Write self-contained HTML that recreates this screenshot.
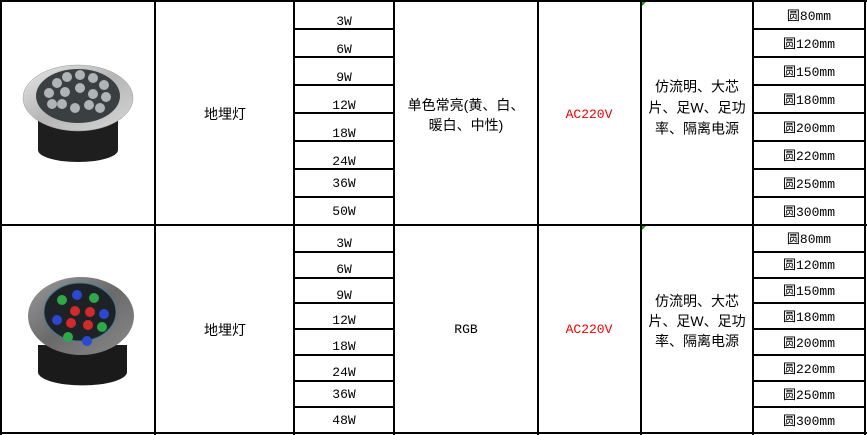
<!DOCTYPE html>
<html><head><meta charset="utf-8"><style>
body{margin:0;width:867px;height:435px;background:#fff;position:relative;overflow:hidden;font-family:"Liberation Mono","WenQuanYi Zen Hei","Noto Sans CJK SC",monospace;color:#000}
.h{position:absolute;height:2px;background:#000}
.v{position:absolute;width:2px;background:#000}
.t{position:absolute;font-size:13px;line-height:14px;text-align:center;white-space:nowrap;transform:translate(-50%,-50%)}
.c{font-size:14px;font-family:"Liberation Sans","WenQuanYi Zen Hei","Noto Sans CJK SC",sans-serif}
</style></head><body>
<div class="v" style="left:0;top:0;height:435px"></div>
<div class="v" style="left:154px;top:0;height:435px"></div>
<div class="v" style="left:293px;top:0;height:435px"></div>
<div class="v" style="left:393px;top:0;height:435px"></div>
<div class="v" style="left:537px;top:0;height:435px"></div>
<div class="v" style="left:640px;top:0;height:435px"></div>
<div class="v" style="left:752px;top:0;height:435px"></div>
<div class="v" style="left:864px;top:0;height:435px"></div>
<div class="h" style="left:0;top:0;width:867px"></div>
<div class="h" style="left:0;top:224px;width:867px"></div>
<div class="h" style="left:0;top:432px;width:867px"></div>
<div class="h" style="left:293px;top:28px;width:101px"></div>
<div class="h" style="left:293px;top:56px;width:101px"></div>
<div class="h" style="left:293px;top:84px;width:101px"></div>
<div class="h" style="left:293px;top:112px;width:101px"></div>
<div class="h" style="left:293px;top:140px;width:101px"></div>
<div class="h" style="left:293px;top:168px;width:101px"></div>
<div class="h" style="left:293px;top:196px;width:101px"></div>
<div class="h" style="left:293px;top:251px;width:101px"></div>
<div class="h" style="left:293px;top:277px;width:101px"></div>
<div class="h" style="left:293px;top:302px;width:101px"></div>
<div class="h" style="left:293px;top:328px;width:101px"></div>
<div class="h" style="left:293px;top:354px;width:101px"></div>
<div class="h" style="left:293px;top:380px;width:101px"></div>
<div class="h" style="left:293px;top:406px;width:101px"></div>
<div class="h" style="left:752px;top:28px;width:114px"></div>
<div class="h" style="left:752px;top:56px;width:114px"></div>
<div class="h" style="left:752px;top:84px;width:114px"></div>
<div class="h" style="left:752px;top:112px;width:114px"></div>
<div class="h" style="left:752px;top:140px;width:114px"></div>
<div class="h" style="left:752px;top:168px;width:114px"></div>
<div class="h" style="left:752px;top:196px;width:114px"></div>
<div class="h" style="left:752px;top:251px;width:114px"></div>
<div class="h" style="left:752px;top:277px;width:114px"></div>
<div class="h" style="left:752px;top:302px;width:114px"></div>
<div class="h" style="left:752px;top:328px;width:114px"></div>
<div class="h" style="left:752px;top:354px;width:114px"></div>
<div class="h" style="left:752px;top:380px;width:114px"></div>
<div class="h" style="left:752px;top:406px;width:114px"></div>
<div style="position:absolute;left:642px;top:2px;width:0;height:0;border-top:4px solid #0a0;border-right:4px solid transparent"></div>
<div style="position:absolute;left:642px;top:226px;width:0;height:0;border-top:4px solid #0a0;border-right:4px solid transparent"></div>

<svg style="position:absolute;left:0;top:0" width="155" height="435">
<defs>
<linearGradient id="ring" x1="0" y1="0" x2="1" y2="1"><stop offset="0" stop-color="#e8e8e8"/><stop offset="0.5" stop-color="#b5b5b5"/><stop offset="1" stop-color="#d8d8d8"/></linearGradient>
<linearGradient id="ring2" x1="0" y1="0" x2="1" y2="1"><stop offset="0" stop-color="#9a9a9a"/><stop offset="0.5" stop-color="#6a6a6a"/><stop offset="1" stop-color="#8a8a8a"/></linearGradient>
</defs>
<path d="M38 118 L38 150 A40 12 0 0 0 118 150 L118 118 Z" fill="#1e1e1e"/>
<ellipse cx="78" cy="98" rx="55" ry="33" fill="url(#ring)" stroke="#999" stroke-width="0.5"/>
<ellipse cx="78" cy="96" rx="42" ry="27" fill="#3a3f42"/>
<g fill="#b0b4b6">
<circle cx="57" cy="83" r="5"/><circle cx="67" cy="77" r="5"/><circle cx="80" cy="75" r="5"/><circle cx="93" cy="78" r="5"/><circle cx="104" cy="85" r="5"/>
<circle cx="49" cy="93" r="5"/><circle cx="65" cy="92" r="5"/><circle cx="80" cy="88" r="5"/><circle cx="93" cy="94" r="5"/><circle cx="106" cy="97" r="5"/>
<circle cx="52" cy="104" r="5"/><circle cx="62" cy="104" r="5"/><circle cx="75" cy="108" r="5"/><circle cx="89" cy="105" r="5"/><circle cx="100" cy="108" r="5"/>
</g>
<path d="M38 345 L38 372 A40 12 0 0 0 127 372 L127 345 Z" fill="#1a1a1a"/>
<ellipse cx="81" cy="316" rx="53" ry="39" fill="url(#ring2)"/>
<ellipse cx="80" cy="312" rx="36" ry="29" fill="#1e2226" stroke="#3a7a90" stroke-width="1"/>
<circle cx="62" cy="300" r="5" fill="#2fa84a"/><circle cx="77" cy="295" r="5" fill="#2a48d0"/><circle cx="94" cy="298" r="5" fill="#2fa84a"/>
<circle cx="75" cy="311" r="5" fill="#d02a2a"/><circle cx="90" cy="312" r="5" fill="#d02a2a"/><circle cx="104" cy="314" r="5" fill="#2a48d0"/>
<circle cx="57" cy="320" r="5" fill="#2a48d0"/><circle cx="71" cy="323" r="5" fill="#d02a2a"/><circle cx="88" cy="325" r="5" fill="#d02a2a"/><circle cx="102" cy="327" r="5" fill="#2fa84a"/>
<circle cx="68" cy="337" r="5" fill="#2fa84a"/><circle cx="87" cy="341" r="5" fill="#2a48d0"/>
</svg>

<div class="t c" style="left:225px;top:114px">地埋灯</div>
<div class="t" style="left:344px;top:22px">3W</div>
<div class="t" style="left:344px;top:50px">6W</div>
<div class="t" style="left:344px;top:78px">9W</div>
<div class="t" style="left:344px;top:106px">12W</div>
<div class="t" style="left:344px;top:134px">18W</div>
<div class="t" style="left:344px;top:162px">24W</div>
<div class="t" style="left:344px;top:184px">36W</div>
<div class="t" style="left:344px;top:212px">50W</div>
<div class="t c" style="left:466px;top:115px;line-height:20px">单色常亮(黄、白、<br>暖白、中性)</div>
<div class="t" style="left:589px;top:115px;color:#e00">AC220V</div>
<div class="t c" style="left:697px;top:108px;line-height:21px">仿流明、大芯<br>片、足W、足功<br>率、隔离电源</div>
<div class="t" style="left:809px;top:17px">圆80mm</div>
<div class="t" style="left:809px;top:45px">圆120mm</div>
<div class="t" style="left:809px;top:73px">圆150mm</div>
<div class="t" style="left:809px;top:101px">圆180mm</div>
<div class="t" style="left:809px;top:129px">圆200mm</div>
<div class="t" style="left:809px;top:157px">圆220mm</div>
<div class="t" style="left:809px;top:185px">圆250mm</div>
<div class="t" style="left:809px;top:213px">圆300mm</div>

<div class="t c" style="left:225px;top:330px">地埋灯</div>
<div class="t" style="left:344px;top:244px">3W</div>
<div class="t" style="left:344px;top:270px">6W</div>
<div class="t" style="left:344px;top:296px">9W</div>
<div class="t" style="left:344px;top:321px">12W</div>
<div class="t" style="left:344px;top:347px">18W</div>
<div class="t" style="left:344px;top:373px">24W</div>
<div class="t" style="left:344px;top:395px">36W</div>
<div class="t" style="left:344px;top:421px">48W</div>
<div class="t" style="left:466px;top:330px">RGB</div>
<div class="t" style="left:589px;top:330px;color:#e00">AC220V</div>
<div class="t c" style="left:697px;top:321px;line-height:20px">仿流明、大芯<br>片、足W、足功<br>率、隔离电源</div>
<div class="t" style="left:809px;top:240px">圆80mm</div>
<div class="t" style="left:809px;top:266px">圆120mm</div>
<div class="t" style="left:809px;top:292px">圆150mm</div>
<div class="t" style="left:809px;top:318px">圆180mm</div>
<div class="t" style="left:809px;top:344px">圆200mm</div>
<div class="t" style="left:809px;top:370px">圆220mm</div>
<div class="t" style="left:809px;top:396px">圆250mm</div>
<div class="t" style="left:809px;top:422px">圆300mm</div>
</body></html>
